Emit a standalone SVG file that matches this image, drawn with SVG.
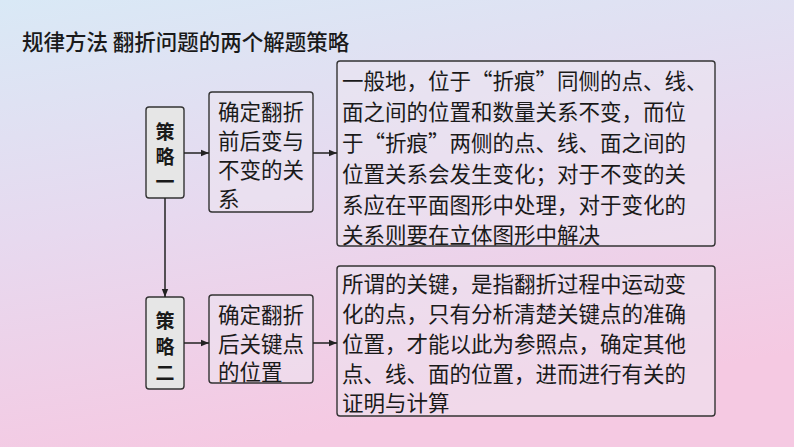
<svg xmlns="http://www.w3.org/2000/svg" width="794" height="447" viewBox="0 0 794 447">
<defs>
<linearGradient id="bg" x1="0" y1="0" x2="0.3" y2="1"><stop offset="0" stop-color="#d9e9f6"/><stop offset="0.5" stop-color="#e7d9ef"/><stop offset="1" stop-color="#f5c9e2"/></linearGradient>
<marker id="ar" viewBox="0 0 10 10" refX="10" refY="5" markerWidth="8" markerHeight="8" markerUnits="userSpaceOnUse" orient="auto"><path d="M0,1 L10,5 L0,9 z" fill="#222"/></marker>
<style>
text{font-family:"Noto Sans CJK SC","Noto Sans",sans-serif;fill:#1a1a1a}
.t{font-size:21.5px}
.h{font-size:21.5px;font-weight:500}
.b{font-size:19px;font-weight:bold}
.box{fill:#ede6f1;fill-opacity:0.55;stroke:#333;stroke-width:1.4}
.s{fill:#e6e6e6;stroke:#333;stroke-width:1.4}
.c{stroke:#222;stroke-width:1.5;fill:none;marker-end:url(#ar)}
</style>
</defs>
<rect width="794" height="447" fill="url(#bg)"/>
<text x="22" y="50" class="h">规律方法  翻折问题的两个解题策略</text>
<g id="n1"><rect class="s" x="146" y="107" width="38" height="91" rx="3"/><text class="b" x="155.5" y="139">策</text><text class="b" x="155.5" y="164">略</text><text class="b" x="155.5" y="189">一</text></g>
<g id="n2"><rect class="box" x="209" y="92" width="104" height="120" rx="3"/><text class="t" x="218" y="120">确定翻折</text><text class="t" x="218" y="149">前后变与</text><text class="t" x="218" y="178">不变的关</text><text class="t" x="218" y="207">系</text></g>
<g id="n3"><rect class="box" x="337" y="61" width="378" height="185" rx="3"/>
<text class="t" x="342" y="89">一般地，位于“折痕”同侧的点、线、</text>
<text class="t" x="342" y="120">面之间的位置和数量关系不变，而位</text>
<text class="t" x="342" y="151">于“折痕”两侧的点、线、面之间的</text>
<text class="t" x="342" y="182">位置关系会发生变化；对于不变的关</text>
<text class="t" x="342" y="213">系应在平面图形中处理，对于变化的</text>
<text class="t" x="342" y="243">关系则要在立体图形中解决</text></g>
<g id="n4"><rect class="s" x="146" y="297" width="38" height="92" rx="3"/><text class="b" x="155.5" y="328">策</text><text class="b" x="155.5" y="354">略</text><text class="b" x="155.5" y="380">二</text></g>
<g id="n5"><rect class="box" x="209" y="295" width="104" height="88" rx="3"/><text class="t" x="218" y="323">确定翻折</text><text class="t" x="218" y="352">后关键点</text><text class="t" x="218" y="380">的位置</text></g>
<g id="n6"><rect class="box" x="337" y="266" width="378" height="150" rx="3"/>
<text class="t" x="342" y="292">所谓的关键，是指翻折过程中运动变</text>
<text class="t" x="342" y="322">化的点，只有分析清楚关键点的准确</text>
<text class="t" x="342" y="352">位置，才能以此为参照点，确定其他</text>
<text class="t" x="342" y="382">点、线、面的位置，进而进行有关的</text>
<text class="t" x="342" y="411">证明与计算</text></g>
<g id="connectors">
<path class="c" d="M184,153 H209"/>
<path class="c" d="M313,153 H337"/>
<path class="c" d="M165,198 V297"/>
<path class="c" d="M184,343 H209"/>
<path class="c" d="M313,343 H337"/>
</g>
</svg>
